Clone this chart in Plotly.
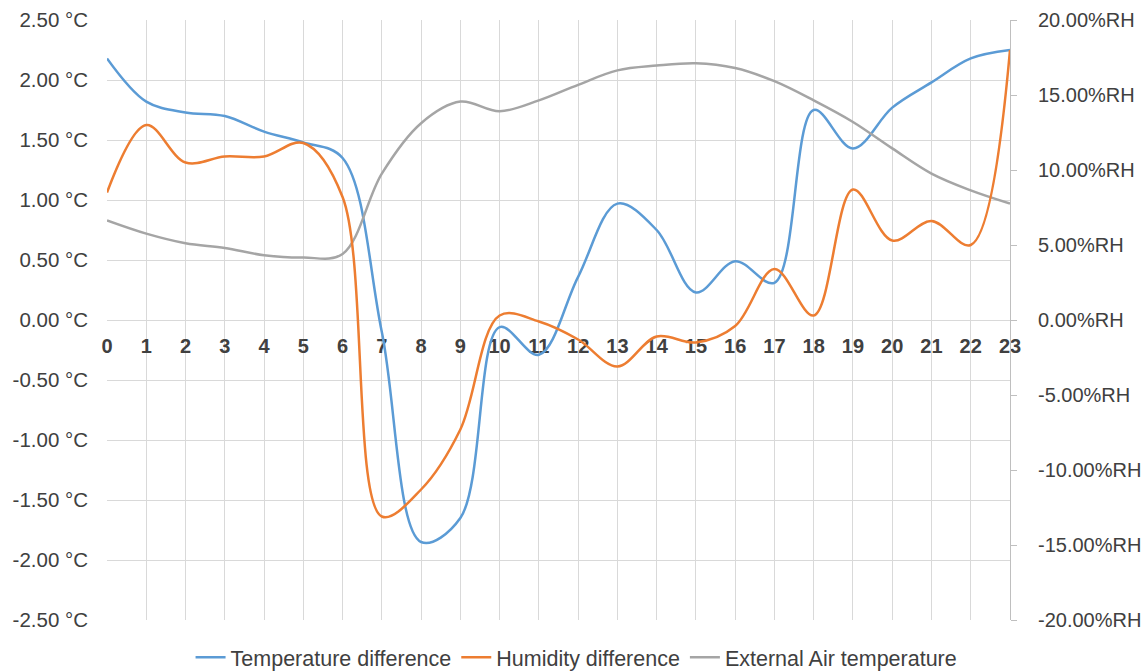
import plotly.graph_objects as go

# Hours of the day
hours = list(range(24))

# Temperature difference (°C, left axis)
temp_diff = [2.18, 1.82, 1.73, 1.70, 1.57, 1.48, 1.35, -0.10, -1.85, -1.65,
             -0.06, -0.29, 0.36, 0.97, 0.75, 0.23, 0.49, 0.31, 1.75, 1.43,
             1.77, 1.98, 2.18, 2.25]

# Humidity difference (%RH, right axis)
hum_diff = [8.5, 13.0, 10.5, 10.9, 10.9, 11.8, 8.2, -13.1, -11.3, -7.3,
            0.3, -0.1, -1.3, -3.1, -1.1, -1.5, -0.4, 3.4, 0.3, 8.7,
            5.3, 6.6, 5.0, 18.0]

# External air temperature (left axis scale)
ext_air = [0.83, 0.72, 0.64, 0.60, 0.54, 0.52, 0.55, 1.22, 1.64, 1.82,
           1.74, 1.83, 1.96, 2.08, 2.12, 2.14, 2.10, 1.99, 1.83, 1.65,
           1.43, 1.22, 1.08, 0.97]

# Axis ticks
left_ticks = [2.5, 2.0, 1.5, 1.0, 0.5, 0.0, -0.5, -1.0, -1.5, -2.0, -2.5]
left_labels = ["2.50 °C", "2.00 °C", "1.50 °C", "1.00 °C", "0.50 °C", "0.00 °C",
               "-0.50 °C", "-1.00 °C", "-1.50 °C", "-2.00 °C", "-2.50 °C"]
right_ticks = [20, 15, 10, 5, 0, -5, -10, -15, -20]
right_labels = ["20.00%RH", "15.00%RH", "10.00%RH", "5.00%RH", "0.00%RH",
                "-5.00%RH", "-10.00%RH", "-15.00%RH", "-20.00%RH"]

BLUE = "#5B9BD5"
ORANGE = "#ED7D31"
GRAY = "#A5A5A5"
TEXT = "#404040"
GRID = "#D9D9D9"
FONT = "Arial, Liberation Sans, Helvetica, sans-serif"

fig = go.Figure()
fig.add_trace(go.Scatter(x=hours, y=temp_diff, name="Temperature difference",
                         mode="lines", line=dict(color=BLUE, width=2.5, shape="spline", smoothing=1.0)))
fig.add_trace(go.Scatter(x=hours, y=hum_diff, name="Humidity difference", yaxis="y2",
                         mode="lines", line=dict(color=ORANGE, width=2.5, shape="spline", smoothing=1.0)))
fig.add_trace(go.Scatter(x=hours, y=ext_air, name="External Air temperature",
                         mode="lines", line=dict(color=GRAY, width=2.5, shape="spline", smoothing=1.0)))

fig.update_layout(
    width=1147, height=671,
    margin=dict(l=107, r=137, t=20, b=51, autoexpand=False),
    paper_bgcolor="white", plot_bgcolor="white",
    font=dict(family=FONT, color=TEXT),
    showlegend=True,
    legend=dict(orientation="h", x=0.52, xanchor="center", y=-0.062, yanchor="middle",
                font=dict(size=21.5, color=TEXT, family=FONT), bgcolor="rgba(0,0,0,0)"),
    xaxis=dict(
        range=[0, 23], tickmode="array", tickvals=hours, ticktext=[str(h) for h in hours],
        showgrid=True, gridcolor=GRID, gridwidth=1, zeroline=False, showline=False,
        ticks="", anchor="free", position=0.5, layer="below traces",
        ticklabelstandoff=12,
        tickfont=dict(size=20, color=TEXT, family=FONT, weight="bold"),
        automargin=False,
    ),
    yaxis=dict(
        range=[-2.5, 2.5], tickmode="array", tickvals=left_ticks, ticktext=left_labels,
        showgrid=True, gridcolor=GRID, gridwidth=1, zeroline=False, showline=False,
        ticks="", ticklabelstandoff=18, tickfont=dict(size=20.5, color=TEXT, family=FONT),
        automargin=False,
    ),
    yaxis2=dict(
        range=[-20, 20], overlaying="y", side="right", tickmode="array",
        tickvals=right_ticks, ticktext=right_labels, showgrid=False, zeroline=False,
        showline=True, linecolor="#BFBFBF", linewidth=1,
        ticks="outside", ticklen=6, tickcolor="#BFBFBF",
        ticklabelstandoff=17, tickfont=dict(size=20, color=TEXT, family=FONT),
        automargin=False,
    ),
)

fig.write_html("out.html")
